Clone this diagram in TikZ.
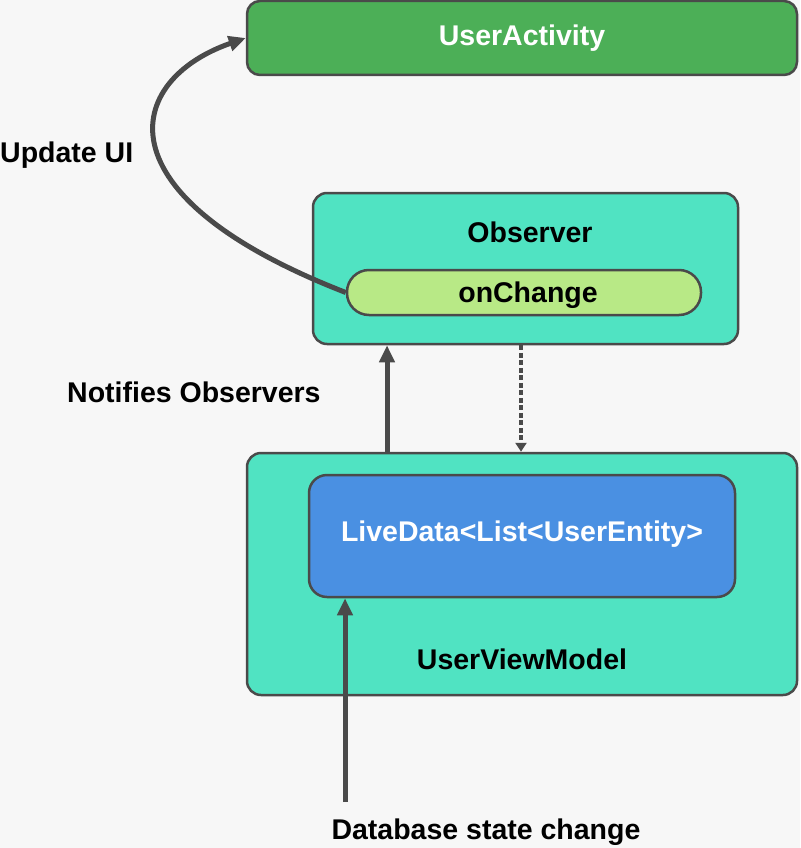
\documentclass[tikz,border=0pt]{standalone}
\usepackage{fontspec}
\setmainfont{Liberation Sans}
\usetikzlibrary{arrows.meta}
\definecolor{bg}{HTML}{F7F7F7}
\definecolor{edge}{HTML}{4A4A4A}
\definecolor{actgreen}{HTML}{4CAF57}
\definecolor{teal}{HTML}{50E3C2}
\definecolor{lime}{HTML}{B8E986}
\definecolor{blue}{HTML}{4A90E2}
\tikzset{
  box/.style={draw=edge, line width=2.5pt, inner sep=0pt, font=\bfseries\fontsize{28.5}{32}\selectfont},
  lbl/.style={font=\bfseries\fontsize{28.5}{32}\selectfont, text=black, inner sep=0pt},
  conn/.style={draw=edge, line width=5pt, -{Triangle[length=17pt,width=15pt]}},
  dconn/.style={draw=edge, line width=4pt, dash pattern=on 5pt off 2.5pt, -{Triangle[length=9pt,width=11pt]}}
}
\begin{document}
\begin{tikzpicture}[x=1pt,y=-1pt]
\fill[bg] (0,0) rectangle (800,848);
\useasboundingbox (0,0) rectangle (800,848);
% boxes
\node[box, fill=actgreen, text=white, rounded corners=13pt, minimum width=550pt, minimum height=74pt] (ua) at (522,38) {UserActivity};
\node[box, fill=teal, rounded corners=14pt, minimum width=425pt, minimum height=151pt] (obs) at (525.5,268.5) {};
\node[lbl] (obst) at (530,232) {Observer};
\node[box, fill=lime, rounded corners=22pt, minimum width=354pt, minimum height=45pt] (oc) at (524,292.5) {};
\node[lbl] (oct) at (528,295) {onChange};
\node[box, fill=teal, rounded corners=14pt, minimum width=550pt, minimum height=242pt] (uvm) at (522,574) {};
\node[lbl] (uvmt) at (522,659) {UserViewModel};
\node[box, fill=blue, rounded corners=18pt, minimum width=426pt, minimum height=122pt] (ld) at (522,536) {};
\node[lbl, text=white] (ldt) at (522,534) {LiveData<List<UserEntity>};
% labels
\node[lbl, anchor=west] (upd) at (0,155) {Update UI};
\node[lbl, anchor=west] (noti) at (67,392) {Notifies Observers};
\node[lbl] (db) at (486,832) {Database state change};
% connectors
\coordinate (dbs) at (345,802);
\draw[conn] (oc.west) .. controls (95,195) and (125,80) .. (ua.west);
\draw[conn] (uvm.north -| 387,0) -- (obs.south -| 387,0);
\draw[dconn] (obs.south -| 521,0) -- (uvm.north -| 521,0);
\draw[conn] (dbs) -- (ld.south -| dbs);
\end{tikzpicture}
\end{document}
